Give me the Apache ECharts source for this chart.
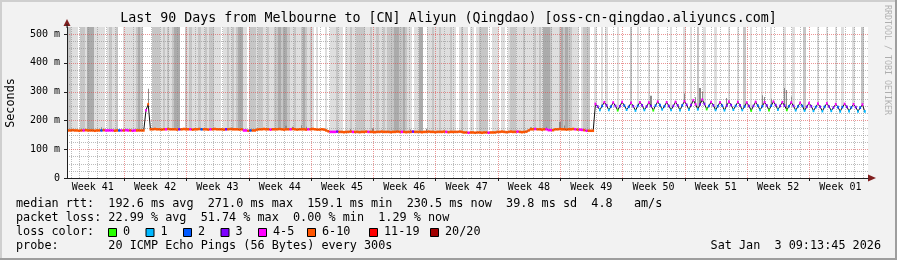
<!DOCTYPE html>
<html><head><meta charset="utf-8">
<script src="https://cdn.jsdelivr.net/npm/echarts@6/dist/echarts.min.js"></script>
<style>html,body{margin:0;padding:0;background:#f2f2f2}#c{width:897px;height:260px}</style>
</head><body><div id="c"></div>
<script>
// ---------------- data ----------------
const titleText = 'Last 90 Days from Melbourne to [CN] Aliyun (Qingdao) [oss-cn-qingdao.aliyuncs.com]';
const weekLabels = ['Week 41','Week 42','Week 43','Week 44','Week 45','Week 46','Week 47','Week 48','Week 49','Week 50','Week 51','Week 52','Week 01'];
const yTickValues = [0, 100, 200, 300, 400, 500];
const lossLabels = ['0','1','2','3','4-5','6-10','11-19','20/20'];
const lossColors = ['#26ff00','#00b8ff','#0059ff','#7e00ff','#ff00ff','#ff5500','#ff0000','#a10000'];
// one value per 6-hour bucket (360 buckets over 90 days), ms
const medianMs = [
165,165,166,165,165,164,165,165,166,165,
165,165,164,165,165,165,166,165,165,165,
165,164,165,165,165,165,166,165,165,164,
165,165,165,165,165,235,256,169,169,170,
169,169,168,169,169,170,169,169,169,168,
169,169,170,169,169,169,168,169,169,170,
169,169,169,168,169,169,170,169,169,169,
168,169,169,170,169,169,169,168,169,165,
165,164,165,165,165,168,169,169,170,169,
169,168,169,169,169,170,169,168,169,169,
169,170,169,168,169,169,169,168,169,169,
170,169,168,168,169,168,165,162,160,160,
160,161,160,160,159,160,160,161,160,160,
160,159,160,160,161,160,160,160,159,160,
160,161,160,160,160,159,160,160,161,160,
160,160,159,160,160,161,160,160,160,159,
160,160,161,160,160,159,160,160,160,161,
160,159,160,160,160,160,161,160,158,158,
157,158,158,157,158,158,157,158,158,157,
158,158,158,160,160,161,160,159,160,161,
160,160,161,160,159,160,161,165,169,169,
170,169,169,168,169,169,166,166,166,169,
169,170,169,169,168,169,169,170,169,168,
168,167,166,164,164,164,164,
257,248,236,
250,263,252,236, 248,262,250,235, 249,264,251,237, 247,261,249,234,
250,263,252,236, 248,262,250,235, 251,265,253,238, 249,263,250,236,
250,264,252,235, 252,266,254,237, 253,270,256,238, 255,272,257,239,
250,264,252,236, 249,263,251,235, 251,265,253,237, 250,264,252,236,
248,262,250,234, 250,264,251,236, 249,263,252,235, 251,265,253,237,
250,263,251,236, 249,262,250,235, 248,261,250,234, 247,260,249,233,
246,258,247,232, 247,259,248,233, 245,256,246,231, 246,257,247,232,
245,256,246,231, 244,255,231
];
// loss colour class per bucket (index into lossColors)
const lossClass = [
5,5,5,5,5,5,5,4,5,5, 5,5,5,5,5,2,5,4,4,4, 4,5,5,2,4,5,4,4,5,4, 4,5,5,5,5,4,5,5,5,5,
5,5,5,5,4,5,5,5,5,5, 3,5,5,5,5,4,5,5,5,5, 2,5,5,5,4,5,5,5,5,5, 5,3,5,5,5,5,5,5,5,4,
4,5,2,5,5,5,5,5,5,5, 5,4,5,5,5,5,5,5,5,5, 4,5,5,5,5,5,5,5,4,5, 5,5,5,5,5,5,5,5,4,4,
4,3,5,5,5,5,5,5,4,5, 5,5,5,5,5,4,5,5,5,5, 5,5,5,5,5,5,5,5,5,5, 4,5,5,5,5,3,5,5,5,5,
5,5,5,5,5,5,5,5,5,5, 4,5,5,5,5,5,5,5,5,5, 4,5,5,5,5,5,5,5,5,4, 5,5,5,5,5,5,5,5,5,5,
5,5,4,5,5,5,5,5,5,5, 4,5,5,5,5,4,4,4,5,5, 5,5,5,5,5,5,5,5,4,5, 4,4,5,4,5,5,5,
4,3,1,
2,4,3,1, 2,4,3,0, 3,4,2,1, 2,4,3,1, 2,4,3,1, 3,4,3,0, 2,4,2,1, 2,4,3,1,
3,4,3,1, 2,4,3,1, 3,4,4,1, 3,4,3,0, 2,4,3,1, 2,4,2,1, 3,4,3,1, 2,4,3,1,
2,4,3,0, 3,4,2,1, 2,4,3,0, 2,4,3,1, 3,4,3,0, 2,4,3,1, 2,4,2,1, 3,4,3,1,
2,4,3,1, 2,4,3,1, 3,4,2,1, 2,4,3,1, 2,4,3,1, 2,4,1
];
// full-height smoke shade per bucket: 0 none, 1 light, 2 medium, 3 dark
const smokeLevel = [
2,2,1,1,1,0,2,2,1,3, 3,3,1,1,1,1,1,0,1,2, 1,1,2,0,0,1,1,1,1,1, 1,2,3,2,0,0,0,0,2,2,
2,2,1,2,1,2,1,2,3,3, 3,0,0,2,1,2,1,1,1,2, 1,1,2,1,2,2,1,1,1,0, 1,1,2,1,2,1,2,3,3,1,
1,0,2,2,2,1,2,2,1,1, 2,1,1,2,2,3,2,3,3,2, 1,1,2,1,1,2,3,2,1,2, 1,0,1,0,0,0,1,0,1,1,
1,2,1,1,0,1,1,2,1,1, 2,2,2,2,1,1,2,1,1,2, 1,1,2,1,2,2,2,3,3,2, 2,3,2,1,1,0,1,1,3,3,
0,0,1,1,2,1,1,2,1,1, 1,1,2,1,1,0,1,2,1,1, 0,1,1,0,1,2,2,2,2,0, 0,1,1,1,0,1,1,0,1,2,
2,2,1,1,1,2,1,1,1,1, 2,1,2,1,3,3,3,2,1,1, 1,2,3,2,3,2,2,1,1,1, 0,1,2,2,2,0,0,
1,0,0,1,0,1,0,0,0,0, 1,0,0,0,0,0,2,0,0,1, 0,0,0,0,1,0,0,0,1,0, 0,0,0,0,1,0,0,0,0,0,
1,0,0,1,0,0,2,0,0,1, 0,0,0,0,1,0,0,0,0,0, 1,0,0,0,1,0,0,2,0,0, 1,0,0,0,0,1,0,0,0,1,
0,0,0,0,0,1,0,0,0,1, 0,0,0,0,2,0,0,0,0,0, 1,0,0,0,1,0,0,0,1,0, 0,1,0,0,0,0,1,0,0,0,
2,0
];
// dense smoke spikes above the median: [bucket, top ms]
const smokeSpikes = [[15,176],[36,310],[74,175],[98,181],[101,178],[105,183],[107,178],[127,170],[137,173],
[154,168],[161,171],[208,176],[215,178],[221,194],[223,182],
[262,285],[277,293],[282,280],[284,312],[285,300],[296,278],[312,287],[313,281],[316,275],[322,312],[323,305],[325,283]];
const legendLines = [
  'median rtt:  192.6 ms avg  271.0 ms max  159.1 ms min  230.5 ms now  39.8 ms sd  4.8   am/s',
  'packet loss: 22.99 % avg  51.74 % max  0.00 % min  1.29 % now',
  'loss color:',
  'probe:       20 ICMP Echo Pings (56 Bytes) every 300s'
];
const lossBoxX = [108,145.5,183,220.5,258,307,369,430];
const dateText = 'Sat Jan  3 09:13:45 2026';

// ---------------- chart ----------------
const YMAX = 524, NB = 360, PER_DAY = 4, FIRST_WEEK = 25.6;
const MONO = '"DejaVu Sans Mono", monospace';
const LEG_FONT = '11.8px ' + MONO;
const STRIPE = [null, '#dedede', '#c6c6c6', '#ababab'];
const MINOR = 'rgba(143,143,143,0.6)', MAJOR = 'rgba(222,79,79,0.6)';
const n = medianMs.length;

const stripeData = medianMs.map((m, i) => [i, m, smokeLevel[i]]);
const spikeData = smokeSpikes.map(s => [s[0], medianMs[s[0]], s[1]]);
const medData = medianMs.map((m, i) => [i, m, i > 0 ? medianMs[i - 1] : m, i + 1 < n ? medianMs[i + 1] : m, lossClass[i]]);
const medLineData = medianMs.map((m, i) => [i + 0.5, m]);

const gridItems = [];
const weekPos = [];
for (let k = 0; FIRST_WEEK + 28 * k < NB; k++) weekPos.push(FIRST_WEEK + 28 * k);
for (let p = FIRST_WEEK % PER_DAY; p < NB; p += PER_DAY) {
  if (Math.abs(((p - FIRST_WEEK) / 28) - Math.round((p - FIRST_WEEK) / 28)) > 1e-6) gridItems.push([0, p]);
}
weekPos.forEach(p => { gridItems.push([1, p]); gridItems.push([4, p]); });
for (let v = 25; v < YMAX; v += 25) gridItems.push([v % 100 ? 2 : 3, v]);
yTickValues.forEach(v => gridItems.push([5, v]));
const weekLabelData = weekLabels.map((s, k) => [FIRST_WEEK - 14 + 28 * k, k]);

function snap(x) { return Math.round(x) + 0.5; }
function renderGrid(params, api) {
  const t = api.value(0), v = api.value(1);
  const cs = params.coordSys;
  if (t === 0 || t === 1) {
    const x = snap(api.coord([v, 0])[0]);
    return {type: 'line', silent: true, shape: {x1: x, y1: cs.y, x2: x, y2: cs.y + cs.height},
      style: {stroke: t === 1 ? MAJOR : MINOR, lineWidth: 1, lineDash: [1, 1]}};
  }
  if (t === 2 || t === 3) {
    const y = snap(api.coord([0, v])[1]);
    return {type: 'line', silent: true, shape: {x1: cs.x, y1: y, x2: cs.x + cs.width, y2: y},
      style: {stroke: t === 3 ? MAJOR : MINOR, lineWidth: 1, lineDash: [1, 1]}};
  }
  if (t === 4) {
    const x = snap(api.coord([v, 0])[0]);
    const y0 = cs.y + cs.height;
    return {type: 'line', silent: true, shape: {x1: x, y1: y0, x2: x, y2: y0 + 3}, style: {stroke: '#1f1f1f', lineWidth: 1}};
  }
  const y = snap(api.coord([0, v])[1]);
  return {type: 'line', silent: true, shape: {x1: cs.x - 3, y1: y, x2: cs.x, y2: y}, style: {stroke: '#1f1f1f', lineWidth: 1}};
}
function renderStripe(params, api) {
  const lvl = api.value(2);
  if (!lvl) return null;
  const i = api.value(0), m = api.value(1);
  const p0 = api.coord([i, YMAX]), p1 = api.coord([i + 1, m]);
  const x0 = Math.round(p0[0]), x1 = Math.round(p1[0]);
  return {type: 'rect', silent: true, shape: {x: x0, y: p0[1], width: Math.max(1, x1 - x0), height: p1[1] - p0[1]},
    style: {fill: STRIPE[lvl]}};
}
function renderSpike(params, api) {
  const i = api.value(0), m = api.value(1), top = api.value(2);
  const p0 = api.coord([i + 0.2, top]), p1 = api.coord([i + 0.8, m]);
  const x0 = Math.round(p0[0]);
  return {type: 'rect', silent: true, shape: {x: x0, y: p0[1], width: Math.max(1, Math.round(p1[0]) - x0), height: p1[1] - p0[1]},
    style: {fill: '#8a8a8a'}};
}
function renderMed(params, api) {
  const i = api.value(0), m = api.value(1), prev = api.value(2), next = api.value(3), c = api.value(4);
  const left = Math.abs(m - prev) <= 4 ? i : i + 0.1;
  const right = Math.abs(next - m) <= 4 ? i + 1 : i + 0.9;
  const a = api.coord([left, m]), b = api.coord([right, m]);
  return {type: 'line', silent: true, shape: {x1: a[0], y1: a[1], x2: b[0], y2: b[1]},
    style: {stroke: lossColors[c], lineWidth: 2.6, lineCap: 'butt'}};
}
function renderWeek(params, api) {
  const p = api.coord([api.value(0), 0]);
  return {type: 'text', silent: true, x: p[0], y: p[1] + 9.5,
    style: {text: weekLabels[api.value(1)], font: '10px ' + MONO, fill: '#000', align: 'center', verticalAlign: 'middle', textAlign: 'center', textVerticalAlign: 'middle'}};
}

function txt(s, x, y, extra) {
  return Object.assign({type: 'text', x: x, y: y, silent: true,
    style: Object.assign({text: s, font: LEG_FONT, fill: '#000', align: 'left', verticalAlign: 'middle', textAlign: 'left', textVerticalAlign: 'middle'}, (extra && extra.style) || {})},
    extra && extra.rot !== undefined ? {rotation: extra.rot} : {});
}
const LY = [203.5, 217.7, 231.8, 246];
const graphics = [];
graphics.push({type: 'rect', silent: true, shape: {x: 0, y: 0, width: 897, height: 2}, style: {fill: '#cfcfcf'}});
graphics.push({type: 'rect', silent: true, shape: {x: 0, y: 0, width: 2, height: 260}, style: {fill: '#cfcfcf'}});
graphics.push({type: 'rect', silent: true, shape: {x: 0, y: 258, width: 897, height: 2}, style: {fill: '#9e9e9e'}});
graphics.push({type: 'rect', silent: true, shape: {x: 895, y: 0, width: 2, height: 260}, style: {fill: '#9e9e9e'}});
graphics.push(txt(titleText, 448.5, 19, {style: {font: '13.3px ' + MONO, align: 'center', textAlign: 'center'}}));
graphics.push(txt('Seconds', 11, 103, {rot: Math.PI / 2, style: {align: 'center', textAlign: 'center'}}));
graphics.push(txt('RRDTOOL / TOBI OETIKER', 887, 60, {rot: -Math.PI / 2, style: {font: '8.3px ' + MONO, fill: 'rgba(0,0,0,0.28)', align: 'center', textAlign: 'center'}}));
legendLines.forEach((s, k) => graphics.push(txt(s, 16, LY[k])));
lossBoxX.forEach((x, k) => {
  graphics.push({type: 'rect', silent: true, shape: {x: x + 0.5, y: 228.5, width: 8, height: 8}, style: {fill: lossColors[k], stroke: '#000', lineWidth: 1}});
  graphics.push(txt(lossLabels[k], x + 15, LY[2]));
});
graphics.push(txt(dateText, 881, LY[3], {style: {align: 'right', textAlign: 'right'}}));
graphics.push({type: 'polygon', silent: true, shape: {points: [[63.5, 26], [70.5, 26], [67, 19]]}, style: {fill: '#801f1f'}});
graphics.push({type: 'polygon', silent: true, shape: {points: [[868, 174.5], [868, 181.5], [876, 178]]}, style: {fill: '#801f1f'}});
graphics.push({type: 'rect', silent: true, shape: {x: 66.5, y: 24, width: 1, height: 4}, style: {fill: '#1f1f1f'}});

const chart = echarts.init(document.getElementById('c'), null, {renderer: 'canvas'});
chart.setOption({
  animation: false,
  backgroundColor: '#f2f2f2',
  grid: {left: 67, top: 27, width: 801, height: 151, backgroundColor: '#ffffff', show: true, borderWidth: 0, outerBoundsMode: 'none'},
  xAxis: {type: 'value', min: 0, max: NB, z: 10,
    axisLine: {show: true, onZero: false, lineStyle: {color: '#1f1f1f', width: 1}},
    axisTick: {show: false}, axisLabel: {show: false}, splitLine: {show: false}},
  yAxis: {type: 'value', min: 0, max: YMAX, interval: 100, z: 10,
    axisLine: {show: true, onZero: false, lineStyle: {color: '#1f1f1f', width: 1}},
    axisTick: {show: false}, splitLine: {show: false},
    axisLabel: {fontFamily: MONO, fontSize: 10, color: '#000', margin: 7,
      formatter: v => (yTickValues.indexOf(v) < 0 ? '' : (v === 0 ? '0' : v + ' m'))}},
  graphic: {elements: graphics},
  series: [
    {type: 'custom', name: 'smoke', renderItem: renderStripe, data: stripeData, z: 1, silent: true},
    {type: 'custom', name: 'smokeSpikes', renderItem: renderSpike, data: spikeData, z: 2, silent: true},
    {type: 'custom', name: 'grid', renderItem: renderGrid, data: gridItems, z: 3, silent: true, clip: false},
    {type: 'line', name: 'medianLine', data: medLineData, symbol: 'none', z: 4, silent: true,
      lineStyle: {color: '#111', width: 1}},
    {type: 'custom', name: 'median', renderItem: renderMed, data: medData, z: 5, silent: true},
    {type: 'custom', name: 'weeks', renderItem: renderWeek, data: weekLabelData, z: 6, silent: true, clip: false}
  ]
});
</script></body></html>
